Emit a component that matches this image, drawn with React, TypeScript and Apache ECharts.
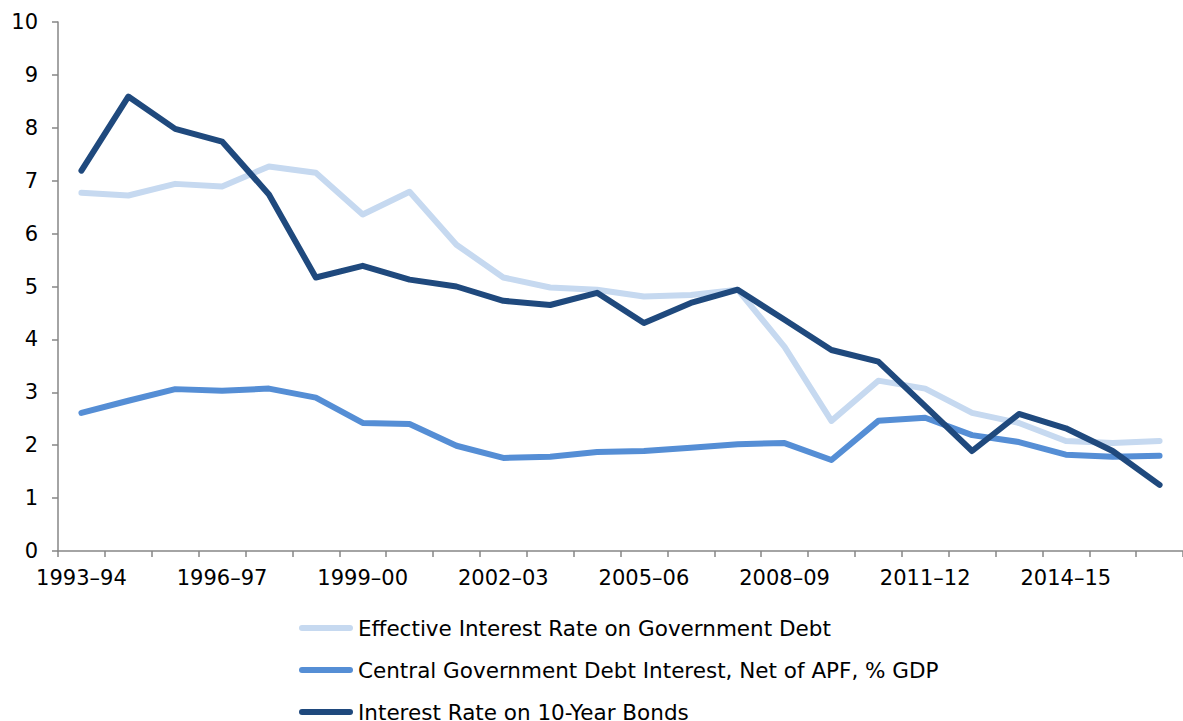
import React, { useEffect, useRef } from "react";
import * as echarts from "echarts";

const categories = [
  "1993–94", "1994–95", "1995–96", "1996–97", "1997–98", "1998–99", "1999–00", "2000–01",
  "2001–02", "2002–03", "2003–04", "2004–05", "2005–06", "2006–07", "2007–08", "2008–09",
  "2009–10", "2010–11", "2011–12", "2012–13", "2013–14", "2014–15", "2015–16", "2016–17",
];

const effectiveRate = [
  6.77, 6.72, 6.94, 6.89, 7.27, 7.15, 6.36, 6.79, 5.79, 5.17, 4.98, 4.94,
  4.81, 4.84, 4.94, 3.86, 2.46, 3.22, 3.07, 2.61, 2.42, 2.08, 2.04, 2.08,
];

const centralDebtInterest = [
  2.61, 2.84, 3.06, 3.03, 3.07, 2.9, 2.42, 2.4, 1.99, 1.76, 1.78, 1.87,
  1.89, 1.95, 2.02, 2.04, 1.72, 2.46, 2.52, 2.19, 2.06, 1.82, 1.78, 1.8,
];

const bondRate = [
  7.19, 8.59, 7.98, 7.74, 6.74, 5.17, 5.39, 5.13, 5.0, 4.73, 4.65, 4.88,
  4.31, 4.69, 4.94, 4.37, 3.8, 3.58, 2.74, 1.89, 2.59, 2.32, 1.89, 1.25,
];

const seriesNames = [
  "Effective Interest Rate on Government Debt",
  "Central Government Debt Interest, Net of APF, % GDP",
  "Interest Rate on 10-Year Bonds",
];
const colors = ["#c6d9f0", "#558ed5", "#1f497d"];

const FONT = "DejaVu Sans, Verdana, sans-serif";
const CAPSULE = "path://M3,0 L51,0 A3,3 0 0 1 51,6 L3,6 A3,3 0 0 1 3,0 Z";

export default function App() {
  const ref = useRef<HTMLDivElement>(null);
  useEffect(() => {
    if (!ref.current) return;
    const chart = echarts.init(ref.current, null, { renderer: "svg" });
    const data = [effectiveRate, centralDebtInterest, bondRate];
    chart.setOption({
      animation: false,
      backgroundColor: "#ffffff",
      grid: { left: 58, top: 22, width: 1133, height: 529, containLabel: false },
      legend: seriesNames.map((name, k) => ({
        orient: "vertical",
        left: 299,
        top: 617 + k * 42,
        padding: 0,
        icon: CAPSULE,
        itemWidth: 54,
        itemHeight: 6,
        data: [name],
        textStyle: { fontFamily: FONT, fontSize: 21.5, color: "#000", lineHeight: 18 },
      })),
      xAxis: {
        type: "category",
        data: categories,
        boundaryGap: true,
        axisLine: { lineStyle: { color: "#868686", width: 1.5 } },
        axisTick: { show: true, interval: 0, length: 6, lineStyle: { color: "#868686", width: 1.5 } },
        axisLabel: {
          interval: 2,
          fontFamily: FONT,
          fontSize: 21,
          color: "#000",
          margin: 16,
        },
        splitLine: { show: false },
      },
      yAxis: {
        type: "value",
        min: 0,
        max: 10,
        interval: 1,
        axisLine: { show: true, lineStyle: { color: "#868686", width: 1.5 } },
        axisTick: { show: true, length: 6, lineStyle: { color: "#868686", width: 1.5 } },
        axisLabel: { fontFamily: FONT, fontSize: 21, color: "#000", margin: 20 },
        splitLine: { show: false },
      },
      series: seriesNames.map((name, k) => ({
        name,
        type: "line",
        data: data[k],
        showSymbol: false,
        symbol: "none",
        color: colors[k],
        itemStyle: { color: colors[k] },
        lineStyle: { color: colors[k], width: 6, cap: "round", join: "round" },
        z: k + 2,
      })),
    });
    return () => chart.dispose();
  }, []);
  return (
    <div
      ref={ref}
      style={{ position: "fixed", left: 0, top: 0, width: 1183, height: 721, background: "#fff" }}
    />
  );
}
